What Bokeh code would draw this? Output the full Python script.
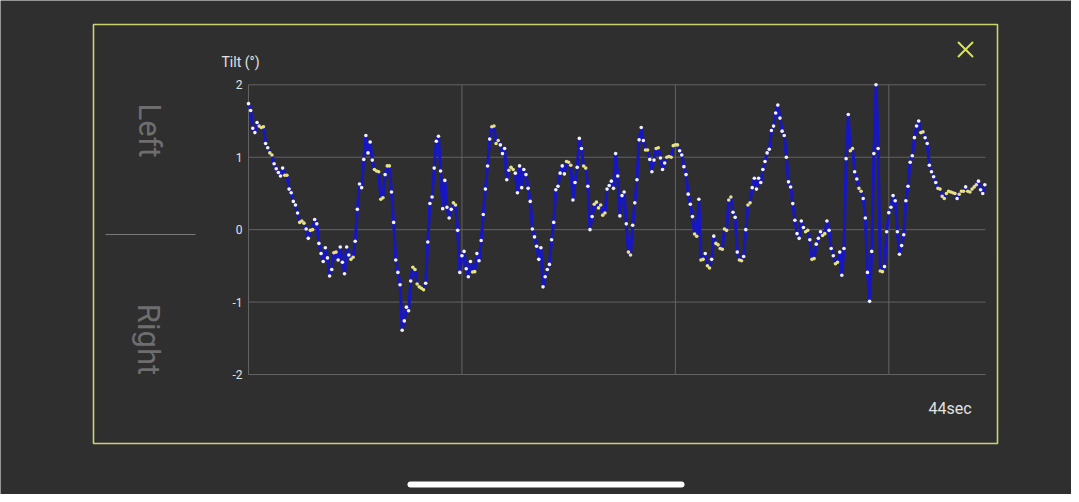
import numpy as np
from bokeh.plotting import figure
from bokeh.models import Range1d
from bokeh.core.properties import value
from bokeh.embed import file_html
from bokeh.resources import INLINE

# ---------------- data ----------------
tilt = [
    1.74, 1.645, 1.40, 1.34, 1.48, 1.43, 1.41, 1.42, 1.19, 1.13,
    1.06, 1.03, 0.91, 0.84, 0.79, 0.74, 0.85, 0.75, 0.75, 0.56,
    0.51, 0.39, 0.34, 0.23, 0.10, 0.12, 0.09, 0.01, -0.12, -0.01,
    0.00, 0.14, 0.08, -0.19, -0.33, -0.44, -0.25, -0.39, -0.64, -0.55,
    -0.32, -0.31, -0.42, -0.24, -0.45, -0.61, -0.24, -0.35, -0.41, -0.38,
    -0.16, 0.28, 0.63, 0.58, 0.97, 1.30, 1.06, 1.21, 0.96, 0.83,
    0.81, 0.80, 0.42, 0.44, 0.76, 0.88, 0.88, 0.52, 0.10, -0.42,
    -0.59, -0.76, -1.39, -1.26, -1.07, -1.12, -0.71, -0.52, -0.55, -0.75,
    -0.79, -0.81, -0.83, -0.74, -0.17, 0.36, 0.45, 0.85, 1.22, 1.29,
    0.81, 0.29, 0.68, 0.31, 0.16, 0.28, 0.37, 0.34, -0.01, -0.59,
    -0.36, -0.30, -0.54, -0.65, -0.44, -0.585, -0.58, -0.33, -0.43, -0.15,
    0.21, 0.56, 0.88, 1.25, 1.42, 1.43, 1.19, 1.23, 1.17, 1.05,
    1.12, 0.69, 0.82, 0.86, 0.83, 0.78, 0.51, 0.88, 0.58, 0.83,
    0.76, 0.57, 0.39, 0.01, -0.10, -0.23, -0.41, -0.25, -0.79, -0.65,
    -0.55, -0.48, -0.14, 0.10, 0.55, 0.60, 0.78, 0.88, 0.77, 0.94,
    0.93, 0.89, 0.41, 0.65, 0.86, 1.26, 1.12, 0.88, 0.85, 0.60,
    0.00, 0.18, 0.35, 0.38, 0.30, 0.34, 0.20, 0.23, 0.56, 0.61,
    0.67, 0.57, 1.05, 0.74, 0.19, 0.47, 0.52, 0.08, -0.31, -0.35,
    0.06, 0.37, 0.69, 1.24, 1.41, 1.23, 1.10, 1.10, 0.97, 0.80,
    0.96, 1.12, 1.13, 0.99, 0.83, 0.92, 1.00, 1.01, 1.00, 1.16,
    1.17, 1.17, 1.09, 1.03, 0.87, 0.76, 0.49, 0.35, 0.18, -0.06,
    -0.09, 0.42, -0.42, -0.41, -0.33, -0.50, -0.53, -0.41, -0.09, -0.19,
    -0.21, -0.26, -0.27, 0.01, -0.01, 0.41, 0.45, 0.24, 0.17, -0.31,
    -0.42, -0.43, -0.37, 0.00, 0.34, 0.37, 0.58, 0.71, 0.56, 0.71,
    0.65, 0.83, 0.94, 1.06, 1.11, 1.37, 1.43, 1.61, 1.72, 1.54,
    1.36, 1.30, 1.00, 0.66, 0.59, 0.36, 0.13, -0.055, -0.12, 0.12,
    0.03, -0.03, -0.01, -0.14, -0.41, -0.40, -0.20, -0.12, -0.03, -0.08,
    -0.055, 0.12, -0.01, -0.26, -0.36, -0.47, -0.45, -0.31, -0.63, -0.26,
    0.98, 1.59, 1.09, 1.12, 0.80, 0.70, 0.57, 0.53, 0.43, 0.16,
    -0.59, -0.99, -0.30, 1.05, 2.00, 1.12, -0.57, -0.58, -0.51, -0.03,
    0.235, 0.31, 0.47, 0.40, -0.03, -0.34, -0.22, -0.07, 0.40, 0.60,
    0.93, 1.02, 1.27, 1.43, 1.50, 1.34, 1.35, 1.27, 1.19, 0.89,
    0.80, 0.73, 0.65, 0.57, 0.56, 0.46, 0.43, 0.50, 0.53, 0.52,
    0.51, 0.50, 0.43, 0.49, 0.53, 0.53, 0.59, 0.53, 0.52, 0.56,
    0.59, 0.62, 0.67, 0.55, 0.50, 0.62,
]
y_ticks = [2, 1, 0, -1, -2]
y_tick_labels = ["2", "1", "0", "-1", "-2"]
x_grid = [0, 100, 200, 300]
y_title = "Tilt (°)"
side_top = "Left"
side_bottom = "Right"
duration_label = "44sec"

# ---------------- styling / layout ----------------
BG = "#2f2f2f"
PANEL = "#c9d56c"
ICON = "#d6e64e"
GRID = "#636363"
TXT = "#e2e2e2"
SIDE = "#6e6e6e"
LINE = "#1616c4"
PT_WHITE = "#f2f2f2"
PT_YELLOW = "#e9e27a"
FONT = value("Roboto")

W, H = 1071, 494
FL, FR, FB, FT = 248.0, 985.0, 120.0, 409.7   # chart area in canvas px

n = len(tilt)
idx = list(range(n))
x_end = n - 1 + 0.3
ppx = (FR - FL) / x_end
t_start = -FL / ppx
t_end = x_end + (W - FR) / ppx
ppy = (FT - FB) / 4.0
y_start = -2 - FB / ppy
y_end = 2 + (H - FT) / ppy

arr = np.array(tilt)
d_prev = np.abs(np.diff(arr, prepend=arr[0] + 1))
d_next = np.abs(np.diff(arr, append=arr[-1] + 1))
colors = [PT_YELLOW if min(a, b) < 0.045 else PT_WHITE for a, b in zip(d_prev, d_next)]

p = figure(width=W, height=H, x_range=(0, W), y_range=(0, H),
           x_axis_type=None, y_axis_type=None, min_border=0,
           toolbar_location=None, output_backend="svg",
           background_fill_color=BG, border_fill_color=BG,
           outline_line_color=None)
p.grid.visible = False
p.extra_x_ranges = {"t": Range1d(t_start, t_end)}
p.extra_y_ranges = {"tilt": Range1d(y_start, y_end)}

# panel frame
p.quad(left=[93], right=[997], bottom=[51], top=[470],
       fill_alpha=0, line_color=PANEL, line_width=1.6)

# close icon
p.segment(x0=[957.5, 957.5], y0=[437.5, 452.5], x1=[972.5, 972.5], y1=[452.5, 437.5],
          line_color=ICON, line_width=2)

# side labels
p.text(x=[149], y=[364], text=[side_top], angle=-np.pi / 2,
       text_align="center", text_baseline="middle",
       text_font=FONT, text_font_size="31px", text_color=SIDE)
p.text(x=[148], y=[155], text=[side_bottom], angle=-np.pi / 2,
       text_align="center", text_baseline="middle",
       text_font=FONT, text_font_size="31px", text_color=SIDE)
p.segment(x0=[105], y0=[260], x1=[195], y1=[260], line_color="#7a7a7a", line_width=1)

# axis title
p.text(x=[221], y=[433], text=[y_title], text_align="left", text_baseline="middle",
       text_font=FONT, text_font_size="14px", text_color=TXT)

# grid
p.segment(x0=[0] * len(y_ticks), x1=[x_end] * len(y_ticks), y0=y_ticks, y1=y_ticks,
          x_range_name="t", y_range_name="tilt", line_color=GRID, line_width=1)
p.segment(x0=x_grid, x1=x_grid, y0=[-2] * len(x_grid), y1=[2] * len(x_grid),
          x_range_name="t", y_range_name="tilt", line_color=GRID, line_width=1)

# tick labels
p.text(x=[0] * len(y_ticks), y=y_ticks, text=y_tick_labels, x_offset=-6,
       x_range_name="t", y_range_name="tilt",
       text_align="right", text_baseline="middle",
       text_font=FONT, text_font_size="12px", text_color=TXT)

# series
p.line(idx, tilt, x_range_name="t", y_range_name="tilt",
       line_color=LINE, line_width=3, line_join="round")
p.scatter(idx, tilt, x_range_name="t", y_range_name="tilt",
          marker="circle", size=3.6, fill_color=colors, line_color=None)

# duration
p.text(x=[971], y=[86], text=[duration_label], text_align="right", text_baseline="middle",
       text_font=FONT, text_font_size="16px", text_color=TXT)

# home indicator
p.segment(x0=[410], y0=[10], x1=[681], y1=[10], line_color="#ffffff",
          line_width=6, line_cap="round")

open("out.html", "w").write(file_html(p, INLINE))
